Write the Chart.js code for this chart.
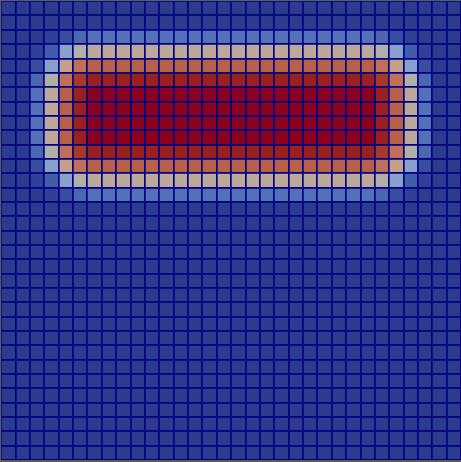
<!DOCTYPE html>
<html>
<head>
<meta charset="utf-8">
<script src="https://cdn.jsdelivr.net/npm/chart.js@4"></script>
<style>
  html, body { margin: 0; padding: 0; background: #5c5c5c; width: 461px; height: 462px; overflow: hidden; }
  #wrap { position: absolute; left: 1px; top: 1px; width: 460px; height: 459px; }
</style>
</head>
<body>
<div id="wrap"><canvas id="c"></canvas></div>
<script>
// Column categories (32) and row categories (32), top row first
const columns = Array.from({length: 32}, (_, i) => String(i));
// Level of each column / row (distance band into the hot rectangle)
const colLevel = [0,0,1,2,3,4,5,5,5,5,5,5,5,5,5,5,5,5,5,5,5,5,5,5,5,5,4,3,2,1,0,0];
const rowLevel = [0,0,1,2,3,4,5,5,5,5,4,3,2,1,0,0,0,0,0,0,0,0,0,0,0,0,0,0,0,0,0,0];
// Cell value for (row level, column level)
const band0 = [0, 0,    0,    0,    0,    0   ];
const band1 = [0, 0.01, 0.04, 0.09, 0.17, 0.21];
const band2 = [0, 0.04, 0.15, 0.35, 0.50, 0.56];
const band3 = [0, 0.09, 0.35, 0.62, 0.70, 0.76];
const band4 = [0, 0.17, 0.50, 0.70, 0.85, 0.90];
const band5 = [0, 0.21, 0.56, 0.76, 0.90, 1.00];
const bands = [band0, band1, band2, band3, band4, band5];

// Colour scale stops
const stopValues = [0, 0.04, 0.09, 0.15, 0.17, 0.21, 0.35, 0.50, 0.56, 0.62, 0.70, 0.76, 0.85, 0.90, 1.0];
const stopColors = [
  [45,59,142],[49,64,150],[56,76,160],[64,92,170],[74,104,176],[84,112,184],
  [138,160,204],[176,176,168],[188,168,154],[196,160,138],[192,112,88],
  [184,96,72],[168,56,40],[154,32,32],[140,0,32]
];
function colorOf(v) {
  for (let i = 0; i < stopValues.length - 1; i++) {
    if (v <= stopValues[i + 1]) {
      const t = (v - stopValues[i]) / (stopValues[i + 1] - stopValues[i] || 1);
      const a = stopColors[i], b = stopColors[i + 1];
      return 'rgb(' + a.map((x, k) => Math.round(x + (b[k] - x) * t)).join(',') + ')';
    }
  }
  const c = stopColors[stopColors.length - 1];
  return 'rgb(' + c.join(',') + ')';
}

// One stacked dataset per row, bottom row first
const datasets = [];
for (let r = rowLevel.length - 1; r >= 0; r--) {
  const vals = colLevel.map(cl => bands[rowLevel[r]][cl]);
  datasets.push({
    label: 'row ' + r,
    data: vals.map(() => 1),
    backgroundColor: vals.map(colorOf),
    borderWidth: 0,
    barPercentage: 1,
    categoryPercentage: 1
  });
}

new Chart(document.getElementById('c'), {
  type: 'bar',
  data: { labels: columns, datasets },
  options: {
    responsive: true,
    maintainAspectRatio: false,
    animation: false,
    layout: { padding: 0 },
    plugins: { legend: { display: false }, tooltip: { enabled: false } },
    scales: {
      x: {
        stacked: true,
        offset: true,
        grid: { z: 1, offset: true, color: '#000082', lineWidth: 1.7, drawTicks: false },
        border: { display: false },
        ticks: { display: false }
      },
      y: {
        stacked: true,
        min: 0, max: 32,
        grid: { z: 1, color: '#000082', lineWidth: 1.7, drawTicks: false },
        border: { display: false },
        ticks: { display: false, stepSize: 1 }
      }
    }
  }
});
</script>
</body>
</html>
